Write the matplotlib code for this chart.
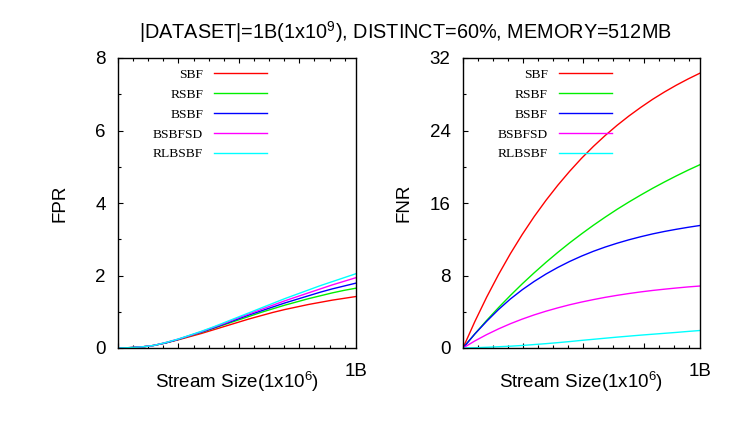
import matplotlib
matplotlib.use("Agg")
import matplotlib.pyplot as plt
from matplotlib.ticker import MultipleLocator, NullFormatter

plt.rcParams['font.family'] = ['Liberation Sans', 'DejaVu Sans']
plt.rcParams['mathtext.fontset'] = 'custom'
plt.rcParams['mathtext.rm'] = 'Liberation Sans'
plt.rcParams['mathtext.it'] = 'Liberation Sans'

# ---- data ----
stream_size = [0, 50, 100, 150, 200, 250, 300, 350, 400, 450, 500,
               550, 600, 650, 700, 750, 800, 850, 900, 950, 1000]  # x 10^6
series_names = ["SBF", "RSBF", "BSBF", "BSBFSD", "RLBSBF"]
series_colors = ["#ff0000", "#00ee00", "#0000ff", "#ff00ff", "#00ffff"]

fpr_sbf = [0, .01, .03, .07, .14, .22, .31, .40, .50, .60, .70,
           .80, .89, .98, 1.06, 1.13, 1.20, 1.26, 1.32, 1.37, 1.42]
fpr_rsbf = [0, .01, .03, .07, .14, .23, .33, .43, .54, .65, .76,
            .87, .98, 1.08, 1.18, 1.27, 1.36, 1.44, 1.52, 1.59, 1.65]
fpr_bsbf = [0, .01, .03, .07, .14, .23, .34, .44, .55, .67, .79,
            .91, 1.02, 1.13, 1.24, 1.34, 1.44, 1.54, 1.63, 1.71, 1.79]
fpr_bsbfsd = [0, .01, .03, .07, .15, .24, .34, .45, .57, .69, .82,
              .94, 1.06, 1.18, 1.30, 1.41, 1.52, 1.63, 1.74, 1.84, 1.94]
fpr_rlbsbf = [0, .01, .03, .07, .15, .24, .35, .46, .58, .71, .84,
              .97, 1.10, 1.23, 1.36, 1.48, 1.60, 1.72, 1.83, 1.94, 2.05]

fnr_sbf = [0, 2.92, 5.62, 8.11, 10.41, 12.53, 14.49, 16.29, 17.96, 19.50, 20.93,
           22.24, 23.45, 24.57, 25.60, 26.55, 27.44, 28.25, 29.00, 29.69, 30.33]
fnr_rsbf = [0, 1.56, 3.05, 4.46, 5.80, 7.08, 8.29, 9.45, 10.55, 11.60, 12.59,
            13.54, 14.44, 15.30, 16.11, 16.88, 17.62, 18.32, 18.99, 19.63, 20.23]
fnr_bsbf = [0, 1.55, 2.95, 4.25, 5.41, 6.43, 7.34, 8.16, 8.89, 9.55, 10.14,
            10.67, 11.14, 11.56, 11.94, 12.28, 12.59, 12.86, 13.10, 13.32, 13.52]
fnr_bsbfsd = [0, 0.78, 1.48, 2.11, 2.68, 3.19, 3.65, 4.06, 4.43, 4.77, 5.07,
              5.34, 5.59, 5.81, 6.01, 6.19, 6.35, 6.49, 6.62, 6.74, 6.84]
fnr_rlbsbf = [0, 0.03, 0.08, 0.14, 0.20, 0.28, 0.38, 0.48, 0.59, 0.71, 0.84,
              0.96, 1.08, 1.20, 1.31, 1.42, 1.52, 1.62, 1.72, 1.83, 1.93]

fpr_series = [fpr_sbf, fpr_rsbf, fpr_bsbf, fpr_bsbfsd, fpr_rlbsbf]
fnr_series = [fnr_sbf, fnr_rsbf, fnr_bsbf, fnr_bsbfsd, fnr_rlbsbf]

title = "|DATASET|=1B(1x10$^{9}$), DISTINCT=60%, MEMORY=512MB"
xlabel = "Stream Size(1x10$^{6}$)"
end_label = "1B"

W, H = 747, 432
fig = plt.figure(figsize=(W / 100, H / 100), dpi=100)

def px(x0, y0, x1, y1):
    return [x0 / W, 1 - y1 / H, (x1 - x0) / W, (y1 - y0) / H]

FS = 13.5

def setup(ax, series, ymax, ymaj, ymin, ylabel, ylabel_x):
    for vals, name, col in zip(series, series_names, series_colors):
        ax.plot(stream_size, vals, color=col, lw=1.0, label=name)
    ax.set_xlim(0, 1000)
    ax.set_ylim(0, ymax)
    ax.xaxis.set_major_locator(MultipleLocator(254))
    ax.xaxis.set_minor_locator(MultipleLocator(63.5))
    ax.xaxis.set_major_formatter(NullFormatter())
    ax.yaxis.set_major_locator(MultipleLocator(ymaj))
    ax.yaxis.set_minor_locator(MultipleLocator(ymin))
    ax.tick_params(axis='x', which='both', direction='in', top=True, bottom=True)
    ax.tick_params(axis='y', which='both', direction='in', left=True, right=False)
    ax.tick_params(which='major', length=3.5, width=0.8)
    ax.tick_params(which='minor', length=2.2, width=0.8)
    ax.tick_params(axis='y', labelsize=FS, pad=9)
    for s in ax.spines.values():
        s.set_linewidth(1.0)
    ax.text(1.0, -0.05, end_label, transform=ax.transAxes, ha='center', va='top',
            fontsize=FS)
    ax.set_xlabel(xlabel, fontsize=FS, labelpad=12)
    ax.set_ylabel(ylabel, fontsize=FS)
    ax.yaxis.set_label_coords(ylabel_x, 0.5)
    ax.legend(loc='upper left', bbox_to_anchor=(0.147, 0.965), frameon=False,
              markerfirst=False, borderpad=0, borderaxespad=0, handlelength=3.93,
              handletextpad=0.82, labelspacing=0.56,
              prop={'family': 'Liberation Serif', 'size': 9.7})
    return ax

ax1 = fig.add_axes(px(118, 58, 356, 348))
setup(ax1, fpr_series, 8, 2, 1, "FPR", -0.21)
ax2 = fig.add_axes(px(463, 58, 700, 348))
setup(ax2, fnr_series, 32, 8, 4, "FNR", -0.215)

fig.text(405 / W, 1 - 32 / H, title, ha='center', va='center', fontsize=14.3)

fig.savefig("out.png", dpi=100)
